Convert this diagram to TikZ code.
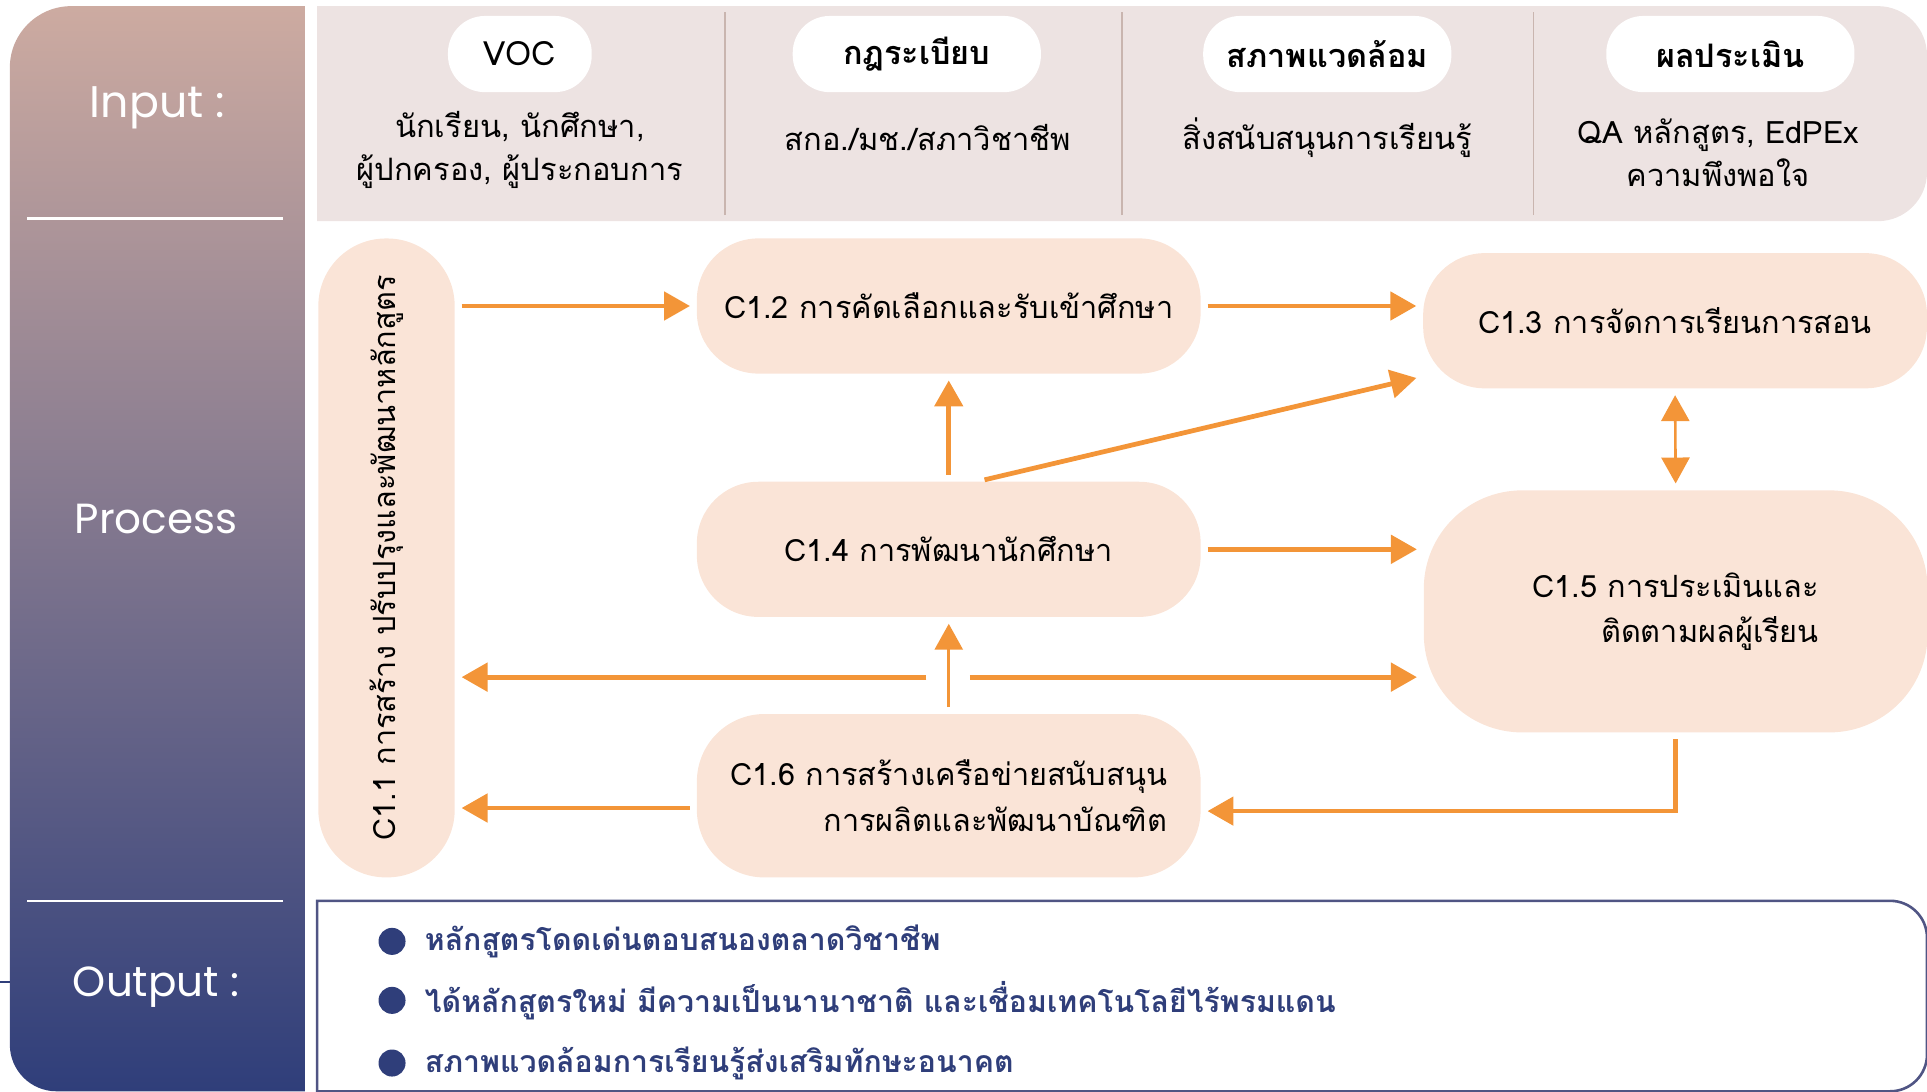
\documentclass[tikz,border=0pt]{standalone}
\usepackage{fontspec}
\newfontfamily\thai[Script=Thai]{Loma}
\newfontfamily\lbl{Poppins}
\usetikzlibrary{arrows.meta,positioning}
\definecolor{peach}{HTML}{FAE4D7}
\definecolor{flowc}{HTML}{F39538}
\definecolor{band}{HTML}{EDE3E2}
\definecolor{navy}{HTML}{2F3E7A}
\definecolor{rosy}{HTML}{CDABA1}
\definecolor{mauve}{HTML}{8C7F97}
\definecolor{divc}{HTML}{C9B5AF}
\begin{document}
\begin{tikzpicture}[x=0.02cm, y=0.02cm, >={Triangle[length=12pt,width=13pt]},
		stagebox/.style={fill=peach, font=\thai\fontsize{14.2}{21}\selectfont, align=right, minimum width=8.2cm, minimum height=2.2cm, rounded corners=1cm, inner sep=0pt},
		headpill/.style={fill=white, rounded corners=0.6cm, minimum width=4.04cm, minimum height=1.24cm, font=\thai\bfseries\fontsize{15}{18}\selectfont},
		subtxt/.style={font=\thai\fontsize{14.3}{20}\selectfont, align=center},
		sidelabel/.style={text=white, font=\lbl\fontsize{19.5}{22}\selectfont},
		flowline/.style={->, draw=flowc, line width=2.2pt, shorten <=3pt, shorten >=3pt},
		slimline/.style={line width=1.2pt},
		outtxt/.style={text=navy, font=\thai\bfseries\fontsize{14}{18}\selectfont, inner sep=0pt, anchor=west}]
	\useasboundingbox (0,0) rectangle (1568,888);

	% left column
	\shade[top color=rosy, middle color=mauve, bottom color=navy] (248,883) -- (58,883)
	arc[start angle=90, end angle=180, radius=1cm] -- (8,38)
	arc[start angle=180, end angle=270, radius=0.76cm] -- (248,0) -- cycle;
	\draw[white, line width=1.2pt] (22,710) -- (230,710) (22,155) -- (230,155);
	\draw[navy, line width=1.2pt] (0,89) -- (8,89);
	\node[sidelabel, font=\lbl\fontsize{20.5}{22}\selectfont] (inlbl) at (128,800) {Input :};
	\node[sidelabel] (prlbl) at (127,466) {Process};
	\node[sidelabel] (outlbl) at (127,85) {Output :};

	% input band
	\fill[band] (258,708) -- (258,883) -- (1528,883)
	arc[start angle=90, end angle=0, radius=0.8cm] -- (1568,748)
	arc[start angle=0, end angle=-90, radius=0.8cm] -- cycle;
	\foreach \x in {590,913,1248}
		\draw[divc, line width=0.6pt] (\x,713) -- (\x,878);
	\node[headpill, minimum width=2.34cm, font=\thai\fontsize{15.5}{18}\selectfont] (voc) at (423,844) {VOC};
	\node[headpill] (rule) at (746,844) {กฎระเบียบ};
	\node[headpill] (env) at (1080,844) {สภาพแวดล้อม};
	\node[headpill] (eval) at (1408,844) {ผลประเมิน};
	\node[subtxt] (vocsub) at (423,766) {นักเรียน, นักศึกษา,\\ผู้ปกครอง, ผู้ประกอบการ};
	\node[subtxt] (rulesub) at (755,776) {สกอ./มช./สภาวิชาชีพ};
	\node[subtxt] (envsub) at (1080,776) {สิ่งสนับสนุนการเรียนรู้};
	\node[subtxt] (evalsub) at (1398,764) {QA หลักสูตร, EdPEx\\ความพึงพอใจ};

	% process
	\node[stagebox, minimum width=2.22cm, minimum height=10.4cm, rounded corners=1.1cm] (c11) at (314.5,434) {};
	\node[rotate=90, font=\thai\fontsize{14.2}{21}\selectfont] (c11txt) at (c11) {C1.1 การสร้าง ปรับปรุงและพัฒนาหลักสูตร};
	\node[stagebox] (c12) at (772,639) {C1.2 การคัดเลือกและรับเข้าศึกษา};
	\node[stagebox] (c13) at (1363,627) {C1.3 การจัดการเรียนการสอน};
	\node[stagebox] (c14) at (772,441) {C1.4 การพัฒนานักศึกษา};
	\node[stagebox, minimum height=3.94cm, rounded corners=1.6cm] (c15) at (1363.5,390.5) {C1.5 การประเมินและ\\ติดตามผลผู้เรียน};
	\node[stagebox, minimum height=2.66cm, rounded corners=1.1cm] (c16) at (772,240.5) {C1.6 การสร้างเครือข่ายสนับสนุน\\การผลิตและพัฒนาบัณฑิต};
	\coordinate (hub) at (771,337);

	\draw[flowline] (c11.east |- c12.west) -- (c12.west);
	\draw[flowline] (c12.east) -- (c12.east -| c13.west);
	\draw[flowline] (c14.north) -- (c12.south);
	\draw[flowline] ([xshift=0.48cm]c14.north) -- ([yshift=0.2cm]c13.south west);
	\draw[flowline] (c14.east) -- (c14.east -| c15.west);
	\draw[flowline, slimline, <->] (c13.south) -- (c15.north);
	\draw[flowline, slimline] (c16.north) -- (c14.south);
	\draw[flowline] ([xshift=-0.24cm]hub) -- (hub -| c11.east);
	\draw[flowline] ([xshift=0.26cm]hub) -- (hub -| c15.west);
	\draw[flowline] ([yshift=-0.2cm]c16.west) -- ([yshift=-0.2cm]c16.west -| c11.east);
	\draw[flowline] (c15.south) |- ([yshift=-0.25cm]c16.east);

	% output
	\draw[navy!65!mauve, line width=1.2pt] (258,0) -- (258,155) -- (1538,155)
	arc[start angle=90, end angle=0, radius=0.6cm] -- (1568,30)
	arc[start angle=0, end angle=-90, radius=0.6cm] -- cycle;
	\foreach \y/\t [count=\i] in {122/หลักสูตรโดดเด่นตอบสนองตลาดวิชาชีพ,
			74/ได้หลักสูตรใหม่ มีความเป็นนานาชาติ และเชื่อมเทคโนโลยีไร้พรมแดน,
			23/สภาพแวดล้อมการเรียนรู้ส่งเสริมทักษะอนาคต}{
			\node[circle, fill=navy, inner sep=0pt, minimum size=0.44cm] (b\i) at (319,\y) {};
			\node[outtxt, right=0.3cm of b\i] (o\i) {\t};
		}
\end{tikzpicture}
\end{document}
